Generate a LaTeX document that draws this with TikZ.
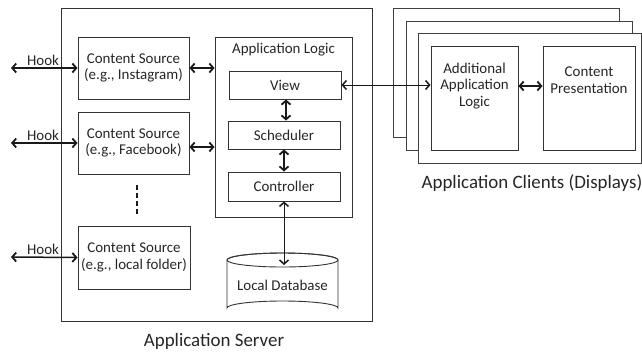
\documentclass[tikz,border=0pt]{standalone}
\usepackage{fontspec}
\setmainfont{Carlito}
\usetikzlibrary{arrows.meta,shadows}
\begin{document}
\begin{tikzpicture}[x=1bp,y=-1bp,
  every node/.style={font=\fontsize{15}{16.5}\selectfont, text=black!85},
  big/.style={font=\fontsize{19}{21}\selectfont},
  box/.style={draw=black!80, line width=0.9bp, fill=white, inner sep=0pt, align=center},
  lbl/.style={inner sep=0pt},
  barb/.style={{Straight Barb[length=4bp,width=9bp,line width=1.8bp]}-{Straight Barb[length=4bp,width=9bp,line width=1.8bp]}, line width=1.5bp, black!90},
  thinbarb/.style={{Straight Barb[length=4bp,width=9bp,line width=1.5bp]}-{Straight Barb[length=4bp,width=9bp,line width=1.5bp]}, line width=0.8bp, black!90},
  client/.style={draw=black!75, line width=0.9bp, fill=white, drop shadow={shadow xshift=1bp, shadow yshift=-1.2bp, fill=black!45, opacity=1}}
]
\useasboundingbox (0,0) rectangle (642,352);
% Application server
\node[box, minimum width=311bp, minimum height=313bp] (server) at (216.5,164.5) {};
\node[lbl, big] (serverlbl) at (214,341) {Application Server};
% Content sources
\node[box, minimum width=111bp, minimum height=62bp] (insta) at (133.5,68) {Content Source\\(e.g., Instagram)};
\node[box, minimum width=111bp, minimum height=62bp] (fb) at (133.5,143) {Content Source\\(e.g., Facebook)};
\node[box, minimum width=112bp, minimum height=63bp] (local) at (134,257.5) {Content Source\\(e.g., local folder)};
\coordinate (dA) at (137,185);
\coordinate (dB) at (137,215);
\draw[black!90, line width=1.6bp, dash pattern=on 5bp off 3bp] (dA) -- (dB);
% Hooks
\coordinate (h1) at (11,68);
\coordinate (h2) at (11,143);
\coordinate (h3) at (11,257);
\draw[barb] (h1) -- (insta.west);
\draw[barb] (h2) -- (fb.west);
\draw[barb] (h3) -- (local.west);
\node[lbl] (hk1) at (43,60) {Hook};
\node[lbl] (hk2) at (43,135) {Hook};
\node[lbl] (hk3) at (43,249) {Hook};
% Application logic
\node[box, minimum width=137bp, minimum height=180bp] (logic) at (283.5,127) {};
\node[lbl] (logiclbl) at (283.5,50) {Application Logic};
\node[box, minimum width=112bp, minimum height=28bp] (view) at (285,85) {View};
\node[box, minimum width=112bp, minimum height=28bp] (sched) at (284,135) {Scheduler};
\node[box, minimum width=112bp, minimum height=29bp] (ctrl) at (284,186.5) {Controller};
\draw[barb] (insta.east) -- (insta.east -| logic.west);
\draw[barb] ([yshift=-4bp]fb.east) -- ([yshift=-4bp]fb.east -| logic.west);
\draw[barb] ([xshift=1bp]view.south) -- ([xshift=1bp]view.south |- sched.north);
\draw[barb] (sched.south) -- (ctrl.north);
% Database
\draw[black!80, line width=0.9bp, fill=white] (227,260) -- (227,308) arc[start angle=180, end angle=360, x radius=55.5, y radius=7] -- (338,260) arc[start angle=0, end angle=-180, x radius=55.5, y radius=7] -- cycle;
\draw[black!80, line width=0.9bp] (282.5,260) ellipse[x radius=55.5, y radius=7];
\node[lbl] (db) at (282.5,285) {Local Database};
\coordinate (dbtop) at (ctrl.south |- 0,265);
\draw[thinbarb] (ctrl.south) -- (dbtop);
% Clients
\node[client, minimum width=226bp, minimum height=129bp] (c1) at (506,72.5) {};
\node[client, minimum width=226bp, minimum height=129bp] (c2) at (519,85.5) {};
\node[client, minimum width=223bp, minimum height=130bp] (c3) at (529.5,98) {};
\node[box, minimum width=87bp, minimum height=104bp] (addl) at (474.5,98) {};
\node[lbl, align=center] (addltxt) at (474.5,86) {Additional\\Application\\Logic};
\node[box, minimum width=92bp, minimum height=104bp] (pres) at (589,98) {};
\node[lbl, align=center] (prestxt) at (589,80) {Content\\Presentation};
\coordinate (pa) at (addl.east |- 0,86);
\coordinate (pb) at (pres.west |- 0,86);
\draw[barb] (pa) -- (pb);
\coordinate (va) at (addl.west |- view.east);
\draw[thinbarb] (view.east) -- (va);
\node[lbl, big] (clientlbl) at (532,183) {Application Clients (Displays)};
\end{tikzpicture}
\end{document}
